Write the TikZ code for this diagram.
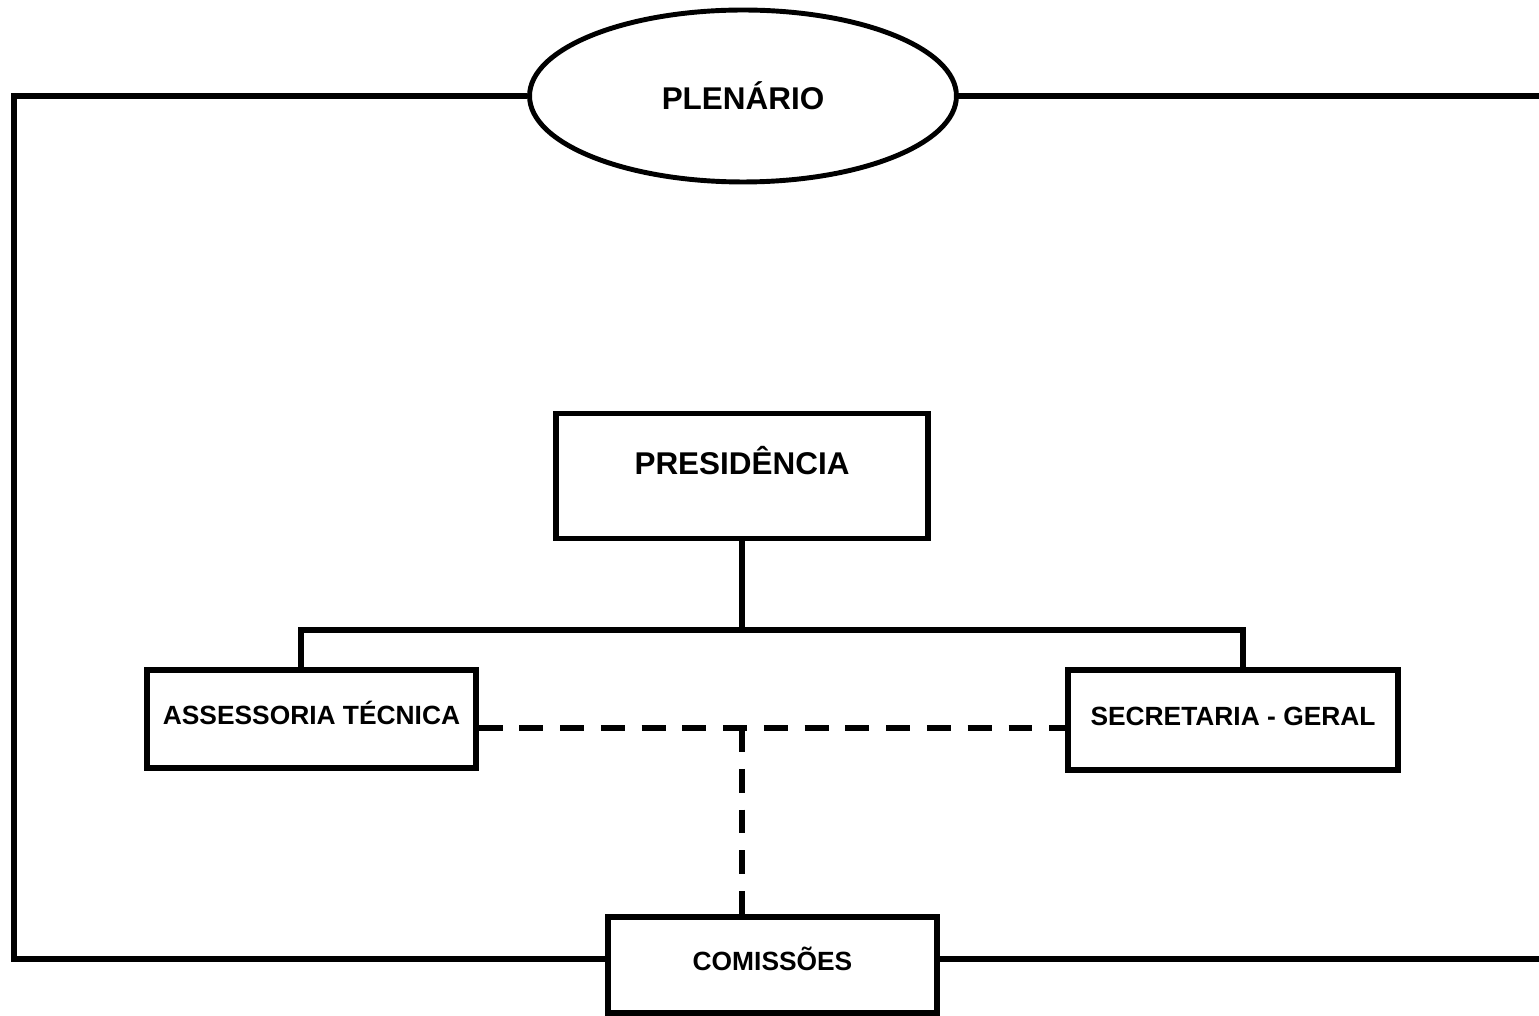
\documentclass[tikz,border=0pt]{standalone}
\usepackage{fontspec}
\setmainfont{Liberation Sans}
\usetikzlibrary{shapes.geometric}

\begin{document}
\begin{tikzpicture}[
  x=0.02cm, y=-0.02cm,
  font=\bfseries\fontsize{15}{18}\selectfont,
  unitbox/.style={draw, line width=3pt, minimum width=6.58cm, minimum height=1.96cm, inner sep=0pt, text height=0.38cm, text depth=0.16cm},
  headbox/.style={draw, line width=3pt, minimum width=7.44cm, minimum height=2.5cm, inner sep=0pt, font=\bfseries\fontsize{17.9}{20}\selectfont, text height=0.45cm, text depth=0.5cm},
  plenbox/.style={draw, ellipse, line width=2.8pt, minimum width=8.54cm, minimum height=3.44cm, inner sep=0pt, font=\bfseries\fontsize{17.9}{20}\selectfont},
  link/.style={line width=3.3pt, line join=miter},
  dlink/.style={line width=3.3pt, dash pattern=on 13.6pt off 9.6pt}
]
\useasboundingbox (0,0) rectangle (1539,1016);

% Plenary on top
\node[plenbox] (plen) at (743,96) {PLENÁRIO};

% Presidency and its two units
\node[headbox] (pres) at (742,476) {PRESIDÊNCIA};
\node[unitbox] (ass) at (311.5,719) {ASSESSORIA TÉCNICA};
\node[unitbox, minimum width=6.6cm, minimum height=2cm] (sec) at (1233,720) {SECRETARIA - GERAL};

% Commissions at the bottom
\node[unitbox, minimum height=1.92cm] (comis) at (772.5,965) {COMISSÕES};

% Frame lines
\coordinate (tl) at (14,96);
\coordinate (bl) at (14,959);
\coordinate (tr) at (1539,96);
\coordinate (br) at (1539,959);
\draw[link] (plen.west) -- (tl) -- (bl) -- (bl -| comis.west);
\draw[link] (plen.east) -- (tr);
\draw[link] (br -| comis.east) -- (br);

% Hierarchy tree
\coordinate (ja) at (301,630);
\coordinate (js) at (1243,630);
\draw[link] (pres.south) -- (pres.south |- ja);
\draw[link] (ass.north -| ja) -- (ja) -- (js) -- (sec.north -| js);

% Dashed links
\coordinate (dj) at (742,728);
\draw[dlink] (dj -| ass.east) -- (dj -| sec.west);
\draw[dlink] (dj) -- (comis.north -| dj);

\end{tikzpicture}
\end{document}
